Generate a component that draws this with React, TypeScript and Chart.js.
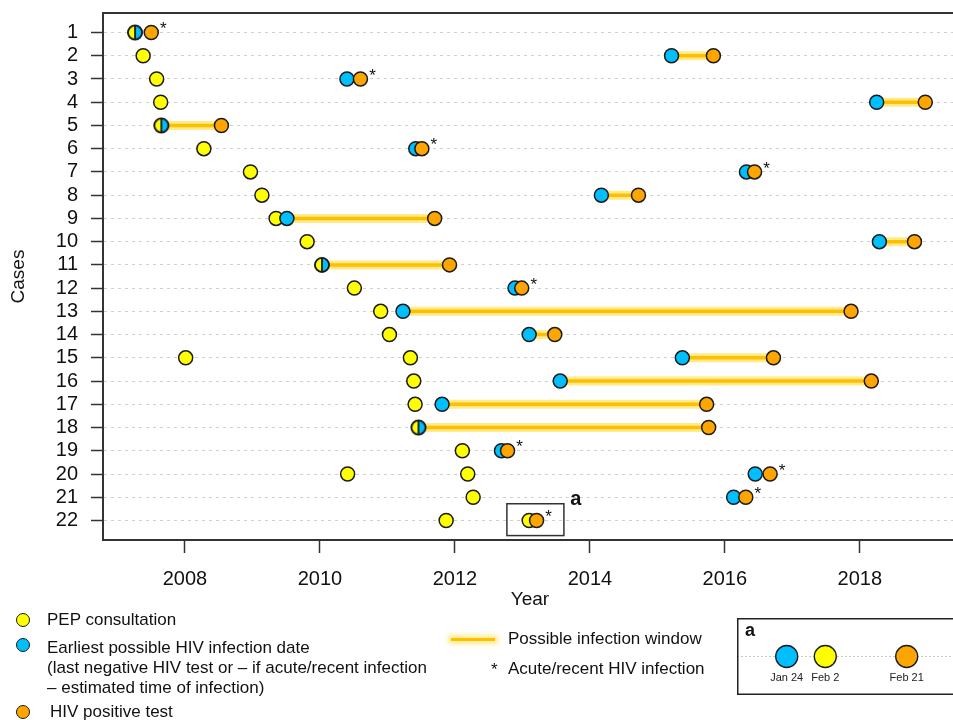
import React, { useEffect, useRef } from 'react';
import { Chart, registerables } from 'chart.js';

Chart.register(...registerables);

const FONT = '"Liberation Sans", Arial, Helvetica, sans-serif';

// ---------- data ----------
const cases = [1, 2, 3, 4, 5, 6, 7, 8, 9, 10, 11, 12, 13, 14, 15, 16, 17, 18, 19, 20, 21, 22];
const yearTicks = [2008, 2010, 2012, 2014, 2016, 2018];

// PEP consultation (main) per case
const pepConsult = [
  2007.26, 2007.38, 2007.58, 2007.64, 2007.65, 2008.28, 2008.97, 2009.14, 2009.35, 2009.81, 2010.03,
  2010.51, 2010.9, 2011.03, 2011.34, 2011.39, 2011.41, 2011.46, 2012.11, 2012.19, 2012.27, 2013.1,
];
// additional PEP consultations
const pepConsultOther = [
  null, null, null, null, null, null, null, null, null, null, null,
  null, null, null, 2008.01, null, null, null, null, 2010.41, null, 2011.87,
];
// earliest possible HIV infection date
const earliestInfection = [
  2007.26, 2015.21, 2010.4, 2018.25, 2007.65, 2011.42, 2016.32, 2014.17, 2009.51, 2018.29, 2010.03,
  2012.89, 2011.23, 2013.1, 2015.37, 2013.56, 2011.81, 2011.46, 2012.69, 2016.45, 2016.13, null,
];
// HIV positive test
const positiveTest = [
  2007.5, 2015.83, 2010.6, 2018.97, 2008.54, 2011.51, 2016.44, 2014.72, 2011.7, 2018.81, 2011.92,
  2012.99, 2017.87, 2013.48, 2016.72, 2018.17, 2015.73, 2015.76, 2012.78, 2016.67, 2016.31, 2013.21,
];
// acute / recent infection (asterisk)
const acuteInfection = [
  true, false, true, false, false, true, true, false, false, false, false,
  true, false, false, false, false, false, false, true, true, true, true,
];

// highlighted box "a" (data space)
const zoomBoxYears = [2012.77, 2013.615];
const zoomBoxCases = [21.28, 22.65];
const zoomBoxLabelAt = [2013.79, 21.08];
const zoomBoxLabel = 'a';

// inset "a"
const insetLabels = ['Jan 24', 'Feb 2', 'Feb 21'];
const insetDays = [24, 33, 52];
const insetKinds = ['earliest', 'pep', 'positive'];

// ---------- styles ----------
const YELLOW = '#FFFF00';
const BLUE = '#00BFFF';
const ORANGE = '#FFA500';
const EDGE = '#1a1a1a';
const kindColor: Record<string, string> = { pep: YELLOW, earliest: BLUE, positive: ORANGE };

function makeHalfMarker(r: number): HTMLCanvasElement {
  const s = Math.ceil(r * 2 + 4);
  const c = document.createElement('canvas');
  c.width = s;
  c.height = s;
  const g = c.getContext('2d')!;
  const cx = s / 2;
  const cy = s / 2;
  g.beginPath();
  g.moveTo(cx, cy - r);
  g.arc(cx, cy, r, -Math.PI / 2, Math.PI / 2, true);
  g.closePath();
  g.fillStyle = YELLOW;
  g.fill();
  g.beginPath();
  g.moveTo(cx, cy - r);
  g.arc(cx, cy, r, -Math.PI / 2, Math.PI / 2, false);
  g.closePath();
  g.fillStyle = BLUE;
  g.fill();
  g.beginPath();
  g.arc(cx, cy, r, 0, Math.PI * 2);
  g.lineWidth = 1.7;
  g.strokeStyle = EDGE;
  g.stroke();
  g.beginPath();
  g.moveTo(cx, cy - r);
  g.lineTo(cx, cy + r);
  g.lineWidth = 1.8;
  g.stroke();
  return c;
}

function pointsOf(arr: (number | null)[]) {
  const out: { x: number; y: number }[] = [];
  cases.forEach((c, i) => {
    const v = arr[i];
    if (v != null) out.push({ x: v, y: c });
  });
  return out;
}

function MainChart() {
  const ref = useRef<HTMLCanvasElement | null>(null);
  useEffect(() => {
    const half = makeHalfMarker(7);
    const windowPts: { x: number; y: number | null }[] = [];
    cases.forEach((c, i) => {
      const a = earliestInfection[i];
      const b = positiveTest[i];
      if (!acuteInfection[i] && a != null && b != null) {
        windowPts.push({ x: a, y: c }, { x: b, y: c }, { x: b, y: null });
      }
    });
    const bluePts = pointsOf(earliestInfection);
    const blueStyles = bluePts.map((p) => (pepConsult[p.y - 1] === p.x ? half : 'circle'));

    const overlay = {
      id: 'overlay',
      afterDatasetsDraw(chart: any) {
        const { ctx, scales } = chart;
        const x = scales.x;
        const y = scales.y;
        ctx.save();
        ctx.fillStyle = '#111';
        ctx.font = `17px ${FONT}`;
        ctx.textAlign = 'center';
        ctx.textBaseline = 'middle';
        cases.forEach((c, i) => {
          const p = positiveTest[i];
          if (acuteInfection[i] && p != null) {
            ctx.fillText('*', x.getPixelForValue(p) + 12, y.getPixelForValue(c) - 3);
          }
        });
        const x0 = x.getPixelForValue(zoomBoxYears[0]);
        const x1 = x.getPixelForValue(zoomBoxYears[1]);
        const y0 = y.getPixelForValue(zoomBoxCases[0]);
        const y1 = y.getPixelForValue(zoomBoxCases[1]);
        ctx.strokeStyle = '#333';
        ctx.lineWidth = 1.5;
        ctx.strokeRect(x0, y0, x1 - x0, y1 - y0);
        ctx.font = `bold 20px ${FONT}`;
        ctx.fillText(zoomBoxLabel, x.getPixelForValue(zoomBoxLabelAt[0]), y.getPixelForValue(zoomBoxLabelAt[1]));
        ctx.restore();
      },
      afterDraw(chart: any) {
        const { ctx, chartArea } = chart;
        ctx.save();
        ctx.strokeStyle = '#333';
        ctx.lineWidth = 2;
        ctx.strokeRect(chartArea.left, chartArea.top, chartArea.right - chartArea.left, chartArea.bottom - chartArea.top);
        ctx.restore();
      },
    };

    const chart = new Chart(ref.current!, {
      type: 'scatter',
      data: {
        datasets: [
          {
            label: 'HIV positive test',
            data: pointsOf(positiveTest),
            backgroundColor: ORANGE,
            borderColor: EDGE,
            borderWidth: 1.5,
            pointRadius: 7,
          },
          {
            label: 'Earliest possible HIV infection date',
            data: bluePts,
            backgroundColor: BLUE,
            borderColor: EDGE,
            borderWidth: 1.5,
            pointRadius: 7,
            pointStyle: blueStyles as any,
          },
          {
            label: 'PEP consultation',
            data: pointsOf(pepConsult),
            backgroundColor: YELLOW,
            borderColor: EDGE,
            borderWidth: 1.5,
            pointRadius: 7,
          },
          {
            label: 'PEP consultation (other)',
            data: pointsOf(pepConsultOther),
            backgroundColor: YELLOW,
            borderColor: EDGE,
            borderWidth: 1.5,
            pointRadius: 7,
          },
          {
            label: 'Possible infection window',
            data: windowPts as any,
            showLine: true,
            spanGaps: false,
            borderColor: 'rgb(255, 190, 0)',
            borderWidth: 3.5,
            pointRadius: 0,
          },
          {
            label: 'window glow',
            data: windowPts as any,
            showLine: true,
            spanGaps: false,
            borderColor: 'rgba(255, 222, 60, 0.6)',
            borderWidth: 9,
            pointRadius: 0,
          },
        ],
      },
      options: {
        animation: false,
        responsive: false,
        maintainAspectRatio: false,
        layout: { autoPadding: false, padding: { left: 3, top: 13, right: 8, bottom: 105 } },
        plugins: { legend: { display: false }, tooltip: { enabled: false } },
        scales: {
          x: {
            type: 'linear',
            min: 2006.785,
            max: 2019.44,
            afterBuildTicks: (a: any) => {
              a.ticks = yearTicks.map((v) => ({ value: v }));
            },
            afterFit: (a: any) => {
              a.height = 75;
              a.paddingLeft = 0;
              a.paddingRight = 0;
            },
            ticks: {
              callback: (v: any) => String(v),
              color: '#111',
              font: { family: FONT, size: 20 },
              padding: 14,
              maxRotation: 0,
              autoSkip: false,
            },
            grid: { drawOnChartArea: false, tickLength: 13, tickColor: '#333', tickWidth: 1.5 },
            border: { display: true, color: '#333', width: 2 },
            title: {
              display: true,
              text: 'Year',
              color: '#111',
              font: { family: FONT, size: 19 },
              padding: { top: 0, bottom: 4 },
            },
          },
          y: {
            type: 'linear',
            reverse: true,
            min: 0.16,
            max: 22.84,
            afterBuildTicks: (a: any) => {
              a.ticks = cases.map((v) => ({ value: v }));
            },
            afterFit: (a: any) => {
              a.width = 100;
              a.paddingTop = 0;
              a.paddingBottom = 0;
            },
            ticks: {
              callback: (v: any) => String(v),
              color: '#111',
              font: { family: FONT, size: 20 },
              padding: 13,
              autoSkip: false,
            },
            grid: { color: '#cfcfcf', lineWidth: 1, tickLength: 12, tickColor: '#333', tickWidth: 1.5 },
            border: { display: true, color: '#333', width: 2, dash: [3, 4] },
            title: {
              display: true,
              text: 'Cases',
              color: '#111',
              font: { family: FONT, size: 19 },
              padding: { top: 4, bottom: 0 },
            },
          },
        },
      },
      plugins: [overlay],
    } as any);
    return () => chart.destroy();
  }, []);
  return <canvas ref={ref} width={965} height={720} style={{ position: 'absolute', left: 0, top: 0, width: 965, height: 720 }} />;
}

function InsetChart() {
  const ref = useRef<HTMLCanvasElement | null>(null);
  useEffect(() => {
    const deco = {
      id: 'deco',
      beforeDatasetsDraw(chart: any) {
        const { ctx, width, height, scales } = chart;
        const yy = scales.y.getPixelForValue(0.5);
        ctx.save();
        ctx.strokeStyle = '#c8c8c8';
        ctx.lineWidth = 1;
        ctx.setLineDash([2, 2]);
        ctx.beginPath();
        ctx.moveTo(0, yy);
        ctx.lineTo(width, yy);
        ctx.stroke();
        ctx.setLineDash([]);
        ctx.strokeStyle = '#222';
        ctx.lineWidth = 1.5;
        ctx.strokeRect(0.75, 0.75, width + 10, height - 1.5);
        ctx.fillStyle = '#111';
        ctx.font = `bold 18px ${FONT}`;
        ctx.textAlign = 'left';
        ctx.textBaseline = 'alphabetic';
        ctx.fillText('a', 8, 18);
        ctx.restore();
      },
      afterDatasetsDraw(chart: any) {
        const { ctx, scales } = chart;
        ctx.save();
        ctx.fillStyle = '#222';
        ctx.font = `11px ${FONT}`;
        ctx.textAlign = 'center';
        ctx.textBaseline = 'middle';
        insetDays.forEach((d, i) => {
          ctx.fillText(insetLabels[i], scales.x.getPixelForValue(d), scales.y.getPixelForValue(0.5) + 21);
        });
        ctx.restore();
      },
    };
    const chart = new Chart(ref.current!, {
      type: 'scatter',
      data: {
        datasets: [
          {
            data: insetDays.map((d) => ({ x: d, y: 0.5 })),
            backgroundColor: insetKinds.map((k) => kindColor[k]),
            borderColor: EDGE,
            borderWidth: 1.3,
            pointRadius: 11,
          },
        ],
      },
      options: {
        animation: false,
        responsive: false,
        maintainAspectRatio: false,
        layout: { autoPadding: false, padding: 0 },
        plugins: { legend: { display: false }, tooltip: { enabled: false } },
        scales: {
          x: { type: 'linear', display: false, min: 12.4, max: 64.2 },
          y: { type: 'linear', display: false, min: 0, max: 1, reverse: true },
        },
      },
      plugins: [deco],
    } as any);
    return () => chart.destroy();
  }, []);
  return <canvas ref={ref} width={222} height={77} style={{ position: 'absolute', left: 737, top: 618, width: 222, height: 77 }} />;
}

const dot = (left: number, top: number, color: string) => (
  <div
    style={{
      position: 'absolute',
      left: left - 7.5,
      top: top - 7.5,
      width: 12,
      height: 12,
      borderRadius: '50%',
      border: '1.5px solid #1a1a1a',
      background: color,
    }}
  />
);

const txt = (left: number, cy: number, s: string, size = 17) => (
  <div
    style={{
      position: 'absolute',
      left,
      top: cy - 10,
      height: 20,
      lineHeight: '20px',
      fontSize: size,
      whiteSpace: 'nowrap',
      color: '#111',
    }}
  >
    {s}
  </div>
);

export default function App() {
  return (
    <div
      style={{
        position: 'absolute',
        left: 0,
        top: 0,
        width: 953,
        height: 720,
        overflow: 'hidden',
        background: '#fff',
        fontFamily: FONT,
      }}
    >
      <MainChart />
      <InsetChart />
      {dot(23, 620, YELLOW)}
      {txt(47, 620, 'PEP consultation')}
      {dot(23, 645, BLUE)}
      {txt(47, 648, 'Earliest possible HIV infection date')}
      {txt(47, 668, '(last negative HIV test or \u2013 if acute/recent infection')}
      {txt(47, 688, '\u2013 estimated time of infection)')}
      {dot(23, 712, ORANGE)}
      {txt(50, 712, 'HIV positive test')}
      <div
        style={{
          position: 'absolute',
          left: 451,
          top: 637.5,
          width: 44,
          height: 3,
          background: 'rgb(255, 190, 0)',
          boxShadow: '0 0 4px 3px rgba(255, 225, 70, 0.6)',
        }}
      />
      {txt(508, 639, 'Possible infection window')}
      {txt(491, 670, '*')}
      {txt(508, 669, 'Acute/recent HIV infection')}
    </div>
  );
}
